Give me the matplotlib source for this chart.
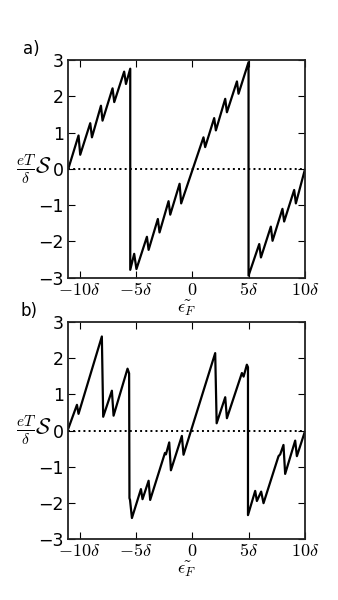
import matplotlib
matplotlib.use("Agg")
import matplotlib.pyplot as plt

plt.rcParams['mathtext.fontset'] = 'cm'
plt.rcParams['font.family'] = ['DejaVu Sans']

# Panel a) curve
a_x = [-11.0, -10.09, -9.94, -9.05, -8.9, -8.1, -7.96, -7.07, -6.92, -6.04, -5.88, -5.5, -5.5,
       -5.15, -4.95, -4.02, -3.87, -3.05, -2.9, -2.1, -1.95, -1.12, -0.98, 1.0, 1.15, 1.95, 2.1,
       2.93, 3.08, 3.97, 4.11, 5.0, 5.0,
       5.95, 6.1, 6.98, 7.13, 8.01, 8.16, 9.05, 9.2, 10.0]
a_y = [0.0, 0.92, 0.39, 1.26, 0.87, 1.74, 1.33, 2.22, 1.84, 2.68, 2.34, 2.76, -2.78,
       -2.34, -2.76, -1.87, -2.23, -1.38, -1.75, -0.89, -1.26, -0.41, -0.95, 0.87, 0.6, 1.40, 1.06,
       1.93, 1.56, 2.41, 2.07, 2.94, -2.94,
       -2.07, -2.44, -1.59, -1.98, -1.1, -1.45, -0.58, -0.95, -0.02]

# Panel b) curve
b_x = [-11.0, -10.23, -10.09, -8.02, -7.9, -7.13, -6.98, -5.74, -5.6, -5.57, -5.52, -5.35,
       -4.55, -4.41, -3.87, -3.73, -2.42, -2.33, -2.04, -1.89, -0.92, -0.77, 2.04, 2.17,
       2.93, 3.08, 4.41, 4.56, 4.85, 4.95, 4.95,
       5.59, 5.74, 6.12, 6.33, 7.66, 7.81, 8.1, 8.25, 9.14, 9.29, 10.0]
b_y = [0.05, 0.71, 0.46, 2.6, 0.38, 1.10, 0.41, 1.71, 1.58, -1.87, -1.92, -2.42,
       -1.62, -1.90, -1.39, -1.92, -0.62, -0.66, -0.33, -1.1, -0.15, -0.67, 2.14, 0.20,
       0.92, 0.34, 1.59, 1.49, 1.82, 1.75, -2.34,
       -1.67, -1.95, -1.69, -2.01, -0.71, -0.66, -0.40, -1.20, -0.28, -0.71, -0.03]

x_ticks = [-10, -5, 0, 5, 10]
x_ticklabels = [r'$-10\delta$', r'$-5\delta$', r'$0$', r'$5\delta$', r'$10\delta$']
y_ticks = [-3, -2, -1, 0, 1, 2, 3]
y_ticklabels = ['\u22123', '\u22122', '\u22121', '0', '1', '2', '3']
panel_labels = ['a)', 'b)']

fig = plt.figure(figsize=(3.38, 6.0), dpi=100)
ax_a = fig.add_axes([0.202, 0.537, 0.700, 0.363])
ax_b = fig.add_axes([0.202, 0.1017, 0.700, 0.3616])

for ax, xs, ys in [(ax_a, a_x, a_y), (ax_b, b_x, b_y)]:
    ax.plot(xs, ys, color='black', lw=1.6)
    ax.axhline(0, color='black', ls=':', lw=1.4)
    ax.set_xlim(-11, 10)
    ax.set_ylim(-3, 3)
    ax.set_xticks(x_ticks)
    ax.set_xticklabels(x_ticklabels, fontsize=13)
    ax.set_yticks(y_ticks)
    ax.set_yticklabels(y_ticklabels, fontsize=12.5)
    ax.tick_params(direction='in', top=True, right=True, length=5, width=0.8, pad=3)
    ax.tick_params(axis='x', pad=2)
    for s in ax.spines.values():
        s.set_linewidth(1.3)
        s.set_color('#222222')
    ax.set_xlabel(r'$\tilde{\epsilon_F}$', fontsize=13, labelpad=0)
    ax.set_ylabel(r'$\frac{eT}{\delta}\mathcal{S}$', fontsize=16, rotation=0, va='center', ha='center')
    ax.yaxis.set_label_coords(-0.145, 0.5)

fig.text(23 / 338, 1 - 49 / 600, panel_labels[0], fontsize=12, va='center', ha='left')
fig.text(20 / 338, 1 - 311 / 600, panel_labels[1], fontsize=12, va='center', ha='left')

fig.savefig('out.png', dpi=100)
